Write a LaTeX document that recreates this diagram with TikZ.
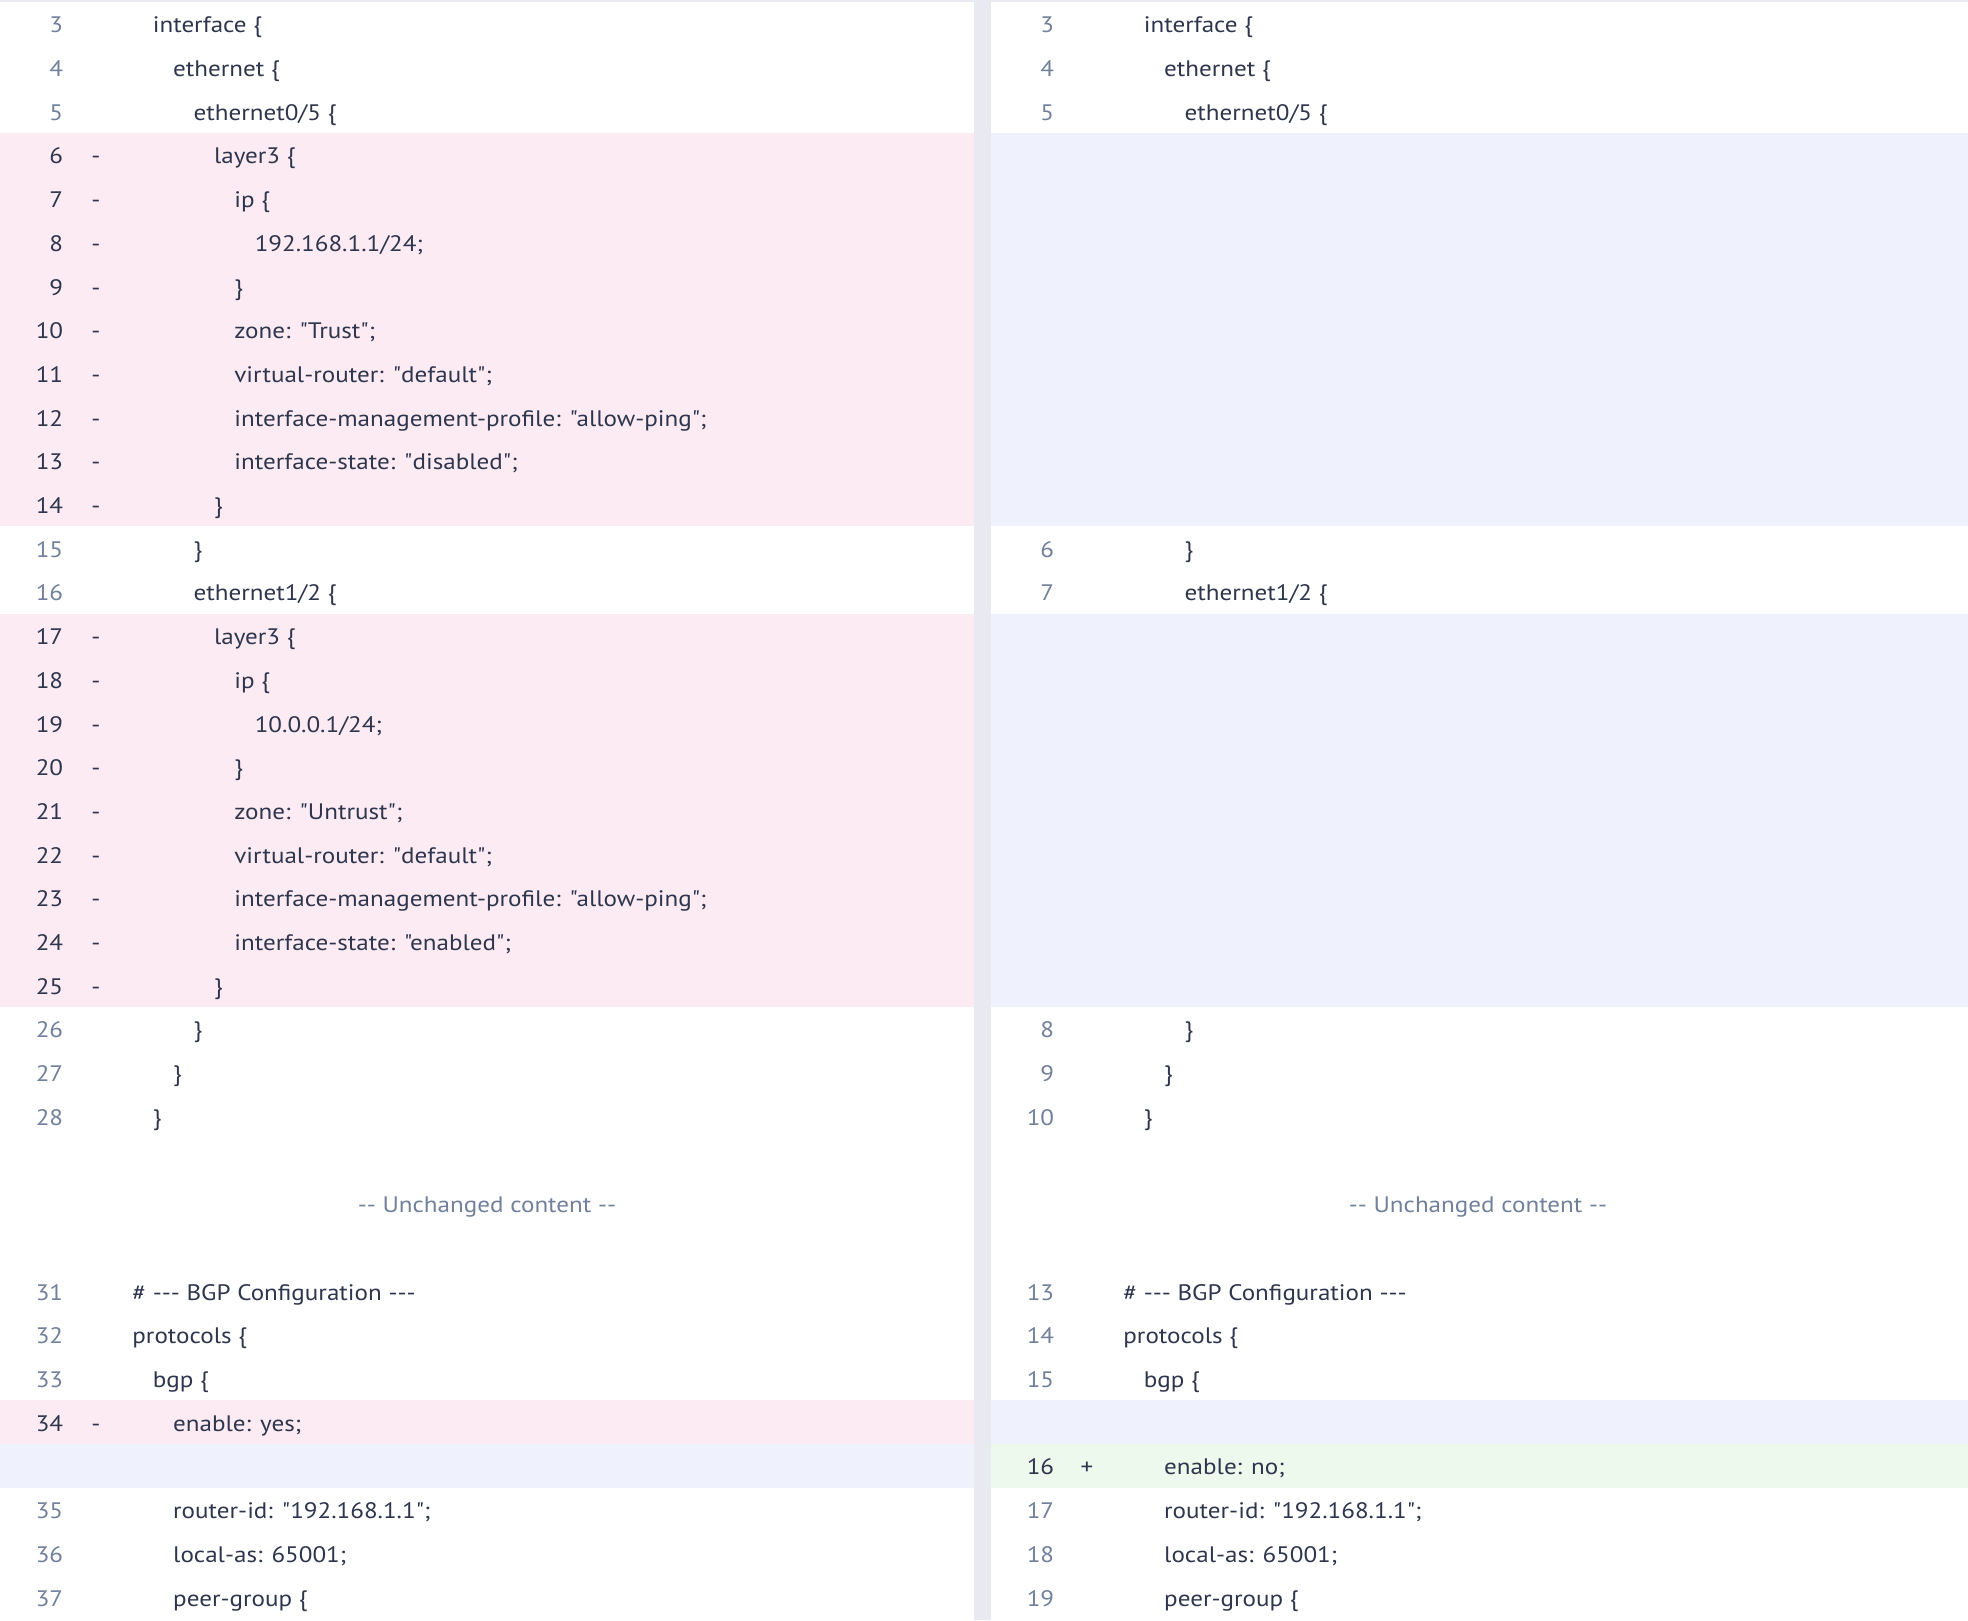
\documentclass[tikz,border=0pt]{standalone}
\usepackage{fontspec}
\setmainfont{PT Sans}[Ligatures=TeXOff, FakeStretch=1.12]
\definecolor{diffink}{RGB}{46, 54, 78}
\definecolor{diffnum}{RGB}{113, 128, 155}
\definecolor{diffred}{RGB}{252, 235, 242}
\definecolor{diffgap}{RGB}{239, 242, 252}
\definecolor{diffgreen}{RGB}{236, 249, 236}
\definecolor{diffrule}{RGB}{233, 233, 242}
\tikzstyle{code} = [
  anchor=base west,
  yshift=-4.5pt,
  inner sep=0pt,
  text=diffink,
  font=\fontsize{11.2}{13}\selectfont,
]
\tikzstyle{lineno} = [code, anchor=base east, text=diffnum]
\tikzstyle{oldno} = [lineno, text=diffink]
\tikzstyle{sign} = [code, anchor=base]
\tikzstyle{skipped} = [code, anchor=base, text=diffnum]

\begin{document}
\begin{tikzpicture}[x=0.5pt, y=-21.85pt]
            \useasboundingbox (0,-0.0458) rectangle (1968,37.0252);

            % Panels
            \fill[white] (0,-0.0458) rectangle (1968,37.0252);
            \fill[diffrule] (0,-0.0458) rectangle (1968,0);
            \fill[diffrule] (974,0) rectangle (991,37.0252);

            % Removed and added rows
            \fill[diffred] (0,3) rectangle (974,12);
            \fill[diffred] (0,14) rectangle (974,23);
            \fill[diffred] (0,32) rectangle (974,33);
            \fill[diffgap] (0,33) rectangle (974,34);
            \fill[diffgap] (991,3) rectangle (1968,12);
            \fill[diffgap] (991,14) rectangle (1968,23);
            \fill[diffgap] (991,32) rectangle (1968,33);
            \fill[diffgreen] (991,33) rectangle (1968,34);

            % Left side
            \node[lineno] (ln3) at (63.5,0.5) {3};
            \node[code] (lt3) at (152.4,0.5) {interface \{};
            \node[lineno] (ln4) at (63.5,1.5) {4};
            \node[code] (lt4) at (172.8,1.5) {ethernet \{};
            \node[lineno] (ln5) at (63.5,2.5) {5};
            \node[code] (lt5) at (193.2,2.5) {ethernet0/5 \{};
            \node[oldno] (ln6) at (63.5,3.5) {6};
            \node[sign] (lm6) at (96,3.5) {-};
            \node[code] (lt6) at (213.6,3.5) {layer3 \{};
            \node[oldno] (ln7) at (63.5,4.5) {7};
            \node[sign] (lm7) at (96,4.5) {-};
            \node[code] (lt7) at (234,4.5) {ip \{};
            \node[oldno] (ln8) at (63.5,5.5) {8};
            \node[sign] (lm8) at (96,5.5) {-};
            \node[code] (lt8) at (254.4,5.5) {192.168.1.1/24;};
            \node[oldno] (ln9) at (63.5,6.5) {9};
            \node[sign] (lm9) at (96,6.5) {-};
            \node[code] (lt9) at (234,6.5) {\}};
            \node[oldno] (ln10) at (63.5,7.5) {10};
            \node[sign] (lm10) at (96,7.5) {-};
            \node[code] (lt10) at (234,7.5) {zone: "Trust";};
            \node[oldno] (ln11) at (63.5,8.5) {11};
            \node[sign] (lm11) at (96,8.5) {-};
            \node[code] (lt11) at (234,8.5) {virtual-router: "default";};
            \node[oldno] (ln12) at (63.5,9.5) {12};
            \node[sign] (lm12) at (96,9.5) {-};
            \node[code] (lt12) at (234,9.5) {interface-management-profile: "allow-ping";};
            \node[oldno] (ln13) at (63.5,10.5) {13};
            \node[sign] (lm13) at (96,10.5) {-};
            \node[code] (lt13) at (234,10.5) {interface-state: "disabled";};
            \node[oldno] (ln14) at (63.5,11.5) {14};
            \node[sign] (lm14) at (96,11.5) {-};
            \node[code] (lt14) at (213.6,11.5) {\}};
            \node[lineno] (ln15) at (63.5,12.5) {15};
            \node[code] (lt15) at (193.2,12.5) {\}};
            \node[lineno] (ln16) at (63.5,13.5) {16};
            \node[code] (lt16) at (193.2,13.5) {ethernet1/2 \{};
            \node[oldno] (ln17) at (63.5,14.5) {17};
            \node[sign] (lm17) at (96,14.5) {-};
            \node[code] (lt17) at (213.6,14.5) {layer3 \{};
            \node[oldno] (ln18) at (63.5,15.5) {18};
            \node[sign] (lm18) at (96,15.5) {-};
            \node[code] (lt18) at (234,15.5) {ip \{};
            \node[oldno] (ln19) at (63.5,16.5) {19};
            \node[sign] (lm19) at (96,16.5) {-};
            \node[code] (lt19) at (254.4,16.5) {10.0.0.1/24;};
            \node[oldno] (ln20) at (63.5,17.5) {20};
            \node[sign] (lm20) at (96,17.5) {-};
            \node[code] (lt20) at (234,17.5) {\}};
            \node[oldno] (ln21) at (63.5,18.5) {21};
            \node[sign] (lm21) at (96,18.5) {-};
            \node[code] (lt21) at (234,18.5) {zone: "Untrust";};
            \node[oldno] (ln22) at (63.5,19.5) {22};
            \node[sign] (lm22) at (96,19.5) {-};
            \node[code] (lt22) at (234,19.5) {virtual-router: "default";};
            \node[oldno] (ln23) at (63.5,20.5) {23};
            \node[sign] (lm23) at (96,20.5) {-};
            \node[code] (lt23) at (234,20.5) {interface-management-profile: "allow-ping";};
            \node[oldno] (ln24) at (63.5,21.5) {24};
            \node[sign] (lm24) at (96,21.5) {-};
            \node[code] (lt24) at (234,21.5) {interface-state: "enabled";};
            \node[oldno] (ln25) at (63.5,22.5) {25};
            \node[sign] (lm25) at (96,22.5) {-};
            \node[code] (lt25) at (213.6,22.5) {\}};
            \node[lineno] (ln26) at (63.5,23.5) {26};
            \node[code] (lt26) at (193.2,23.5) {\}};
            \node[lineno] (ln27) at (63.5,24.5) {27};
            \node[code] (lt27) at (172.8,24.5) {\}};
            \node[lineno] (ln28) at (63.5,25.5) {28};
            \node[code] (lt28) at (152.4,25.5) {\}};
            \node[skipped] (lskip) at (487,27.5) {-- Unchanged content --};
            \node[lineno] (ln31) at (63.5,29.5) {31};
            \node[code] (lt31) at (132,29.5) {\# --- BGP Configuration ---};
            \node[lineno] (ln32) at (63.5,30.5) {32};
            \node[code] (lt32) at (132,30.5) {protocols \{};
            \node[lineno] (ln33) at (63.5,31.5) {33};
            \node[code] (lt33) at (152.4,31.5) {bgp \{};
            \node[oldno] (ln34) at (63.5,32.5) {34};
            \node[sign] (lm34) at (96,32.5) {-};
            \node[code] (lt34) at (172.8,32.5) {enable: yes;};
            \node[lineno] (ln35) at (63.5,34.5) {35};
            \node[code] (lt35) at (172.8,34.5) {router-id: "192.168.1.1";};
            \node[lineno] (ln36) at (63.5,35.5) {36};
            \node[code] (lt36) at (172.8,35.5) {local-as: 65001;};
            \node[lineno] (ln37) at (63.5,36.5) {37};
            \node[code] (lt37) at (172.8,36.5) {peer-group \{};

            % Right side
            \node[lineno] (rn3) at (1054.5,0.5) {3};
            \node[code] (rt3) at (1143.4,0.5) {interface \{};
            \node[lineno] (rn4) at (1054.5,1.5) {4};
            \node[code] (rt4) at (1163.8,1.5) {ethernet \{};
            \node[lineno] (rn5) at (1054.5,2.5) {5};
            \node[code] (rt5) at (1184.2,2.5) {ethernet0/5 \{};
            \node[lineno] (rn6) at (1054.5,12.5) {6};
            \node[code] (rt6) at (1184.2,12.5) {\}};
            \node[lineno] (rn7) at (1054.5,13.5) {7};
            \node[code] (rt7) at (1184.2,13.5) {ethernet1/2 \{};
            \node[lineno] (rn8) at (1054.5,23.5) {8};
            \node[code] (rt8) at (1184.2,23.5) {\}};
            \node[lineno] (rn9) at (1054.5,24.5) {9};
            \node[code] (rt9) at (1163.8,24.5) {\}};
            \node[lineno] (rn10) at (1054.5,25.5) {10};
            \node[code] (rt10) at (1143.4,25.5) {\}};
            \node[skipped] (rskip) at (1478,27.5) {-- Unchanged content --};
            \node[lineno] (rn13) at (1054.5,29.5) {13};
            \node[code] (rt13) at (1123,29.5) {\# --- BGP Configuration ---};
            \node[lineno] (rn14) at (1054.5,30.5) {14};
            \node[code] (rt14) at (1123,30.5) {protocols \{};
            \node[lineno] (rn15) at (1054.5,31.5) {15};
            \node[code] (rt15) at (1143.4,31.5) {bgp \{};
            \node[oldno] (rn16) at (1054.5,33.5) {16};
            \node[sign] (rp16) at (1087,33.5) {+};
            \node[code] (rt16) at (1163.8,33.5) {enable: no;};
            \node[lineno] (rn17) at (1054.5,34.5) {17};
            \node[code] (rt17) at (1163.8,34.5) {router-id: "192.168.1.1";};
            \node[lineno] (rn18) at (1054.5,35.5) {18};
            \node[code] (rt18) at (1163.8,35.5) {local-as: 65001;};
            \node[lineno] (rn19) at (1054.5,36.5) {19};
            \node[code] (rt19) at (1163.8,36.5) {peer-group \{};
          \end{tikzpicture}
\end{document}
